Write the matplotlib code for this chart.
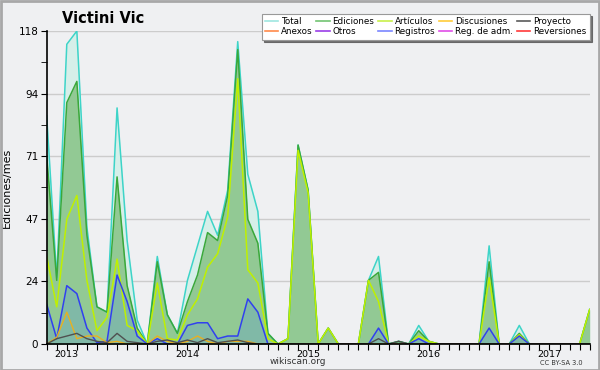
import numpy as np
import matplotlib
matplotlib.use("Agg")
import matplotlib.pyplot as plt
from matplotlib.lines import Line2D
from matplotlib.patches import Rectangle

# monthly values, Nov 2012 .. May 2017 (55 months)
total = [86, 25, 113, 118, 44, 14, 12, 89, 39, 9, 0, 33, 11, 4, 24, 37, 50, 41, 58, 114,
         64, 50, 4, 0, 2, 75, 58, 0, 6, 0, 0, 0, 24, 33, 0, 1, 0, 7, 1, 0,
         0, 0, 0, 0, 37, 0, 0, 7, 0, 0, 0, 0, 0, 0, 13]
ediciones = [71, 24, 91, 99, 41, 14, 12, 63, 22, 6, 0, 31, 11, 4, 16, 26, 42, 39, 56, 111,
             47, 38, 4, 0, 2, 75, 58, 0, 6, 0, 0, 0, 24, 27, 0, 1, 0, 5, 1, 0,
             0, 0, 0, 0, 31, 0, 0, 4, 0, 0, 0, 0, 0, 0, 13]
articulos = [33, 14, 47, 56, 24, 5, 10, 32, 7, 5, 0, 23, 2, 1.5, 11, 17, 29, 34, 48, 100,
             28, 23, 2, 0, 2, 73, 57, 0, 6, 0, 0, 0, 24, 16, 0, 0, 0, 3, 1, 0,
             0, 0, 0, 0, 25, 0, 0, 3.5, 0, 0, 0, 0, 0, 0, 13]
registros = [15, 2, 22, 19, 6, 0.5, 1, 26, 16, 3, 0, 2, 0, 0, 7, 8, 8, 2, 3, 3,
             17, 12, 0, 0, 0, 0, 0, 0, 0, 0, 0, 0, 0, 6, 0, 0, 0, 2, 0, 0,
             0, 0, 0, 0, 6, 0, 0, 3, 0, 0, 0, 0, 0, 0, 0]
discusiones = [0, 2.5, 12, 2, 3, 3, 0.5, 1, 0, 0, 0, 3, 1, 0, 1, 3, 1, 0, 1, 1,
               1, 0, 0, 0, 0, 0, 0, 0, 0, 0, 0, 0, 0, 0, 0, 0, 0, 0, 0, 0,
               0, 0, 0, 0, 0, 0, 0, 0, 0, 0, 0, 0, 0, 0, 0]
proyecto = [0, 2, 3, 4, 2, 1, 0.5, 4, 1, 0.5, 0, 1, 1.5, 0.5, 1.5, 0.5, 2, 0.5, 1, 1.5,
            0.5, 0, 0, 0, 0, 0, 0, 0, 0, 0, 0, 0, 0, 2, 0, 1, 0, 0, 0, 0,
            0, 0, 0, 0, 0, 0, 0, 0, 0, 0, 0, 0, 0, 0, 0]

year_labels = ["2013", "2014", "2015", "2016", "2017"]
year_pos = [2, 14, 26, 38, 50]

legend_names = ["Total", "Anexos", "Ediciones", "Otros", "Artículos", "Registros",
                "Discusiones", "Reg. de adm.", "Proyecto", "Reversiones"]
legend_colors = ["#9ee6e0", "#ff8a4a", "#72c472", "#9a3ee8", "#c8f04a", "#7a86ff",
                 "#ffcc3a", "#e04ee8", "#5a5a5a", "#ff3a3a"]

BG = "#eff0f2"

fig = plt.figure(figsize=(6, 3.7), dpi=100, facecolor=BG)
ax = fig.add_axes([0.0778, 0.0703, 0.905, 0.8459], facecolor=BG)
fig.patches.append(Rectangle((0.001, 0.001), 0.997, 0.996, transform=fig.transFigure,
                             fill=False, edgecolor="#a8a8a8", linewidth=2))

x = np.arange(len(total))

ax.fill_between(x, total, color="#d6efe9", lw=0)
ax.plot(x, total, color="#3dd4c8", lw=1.1)
ax.fill_between(x, ediciones, color="#92c994", lw=0)
ax.plot(x, ediciones, color="#3aa83a", lw=1.1)
ax.plot(x, articulos, color="#bff000", lw=1.1)
ax.fill_between(x, registros, color="#7fb8aa", lw=0, alpha=0.9)
ax.plot(x, registros, color="#3040f0", lw=1.1)
ax.plot(x, discusiones, color="#e8b020", lw=1)
ax.plot(x, proyecto, color="#505050", lw=1)

ax.set_xlim(0, len(total) - 1)
ax.set_ylim(0, 118)

yt = np.linspace(0, 118, 6)
ax.set_yticks(yt)
ax.set_yticklabels([f"{v:.0f}" for v in yt], fontsize=7.5)
ax.set_yticks(np.linspace(0, 118, 11), minor=True)
ax.tick_params(axis="y", which="both", length=4, direction="out", pad=2)
for v in yt[1:]:
    ax.axhline(v, color="#cccccc", lw=1, zorder=0)

xlabels = ["" for _ in x]
for p, lab in zip(year_pos, year_labels):
    xlabels[p] = lab
ax.set_xticks(x)
ax.set_xticklabels(xlabels, fontsize=6.8)
ax.tick_params(axis="x", which="major", length=4, direction="out", pad=0)

for s in ["top", "right"]:
    ax.spines[s].set_visible(False)
ax.spines["left"].set_linewidth(1.2)
ax.spines["bottom"].set_linewidth(1.2)

ax.set_ylabel("Ediciones/mes", fontsize=8)
ax.yaxis.set_label_coords(-0.064, 0.5)
fig.text(0.172, 0.95, "Victini Vic", fontsize=10.5, fontweight="bold", ha="center", va="center")
fig.text(0.497, 0.022, "wikiscan.org", fontsize=6.5, ha="center", va="center", color="#333333")
fig.text(0.935, 0.02, "CC BY-SA 3.0", fontsize=4.8, ha="center", va="center", color="#333333")

handles = [Line2D([], [], color=c, lw=1.2) for c in legend_colors]
leg = fig.legend(handles, legend_names, ncol=5, loc="upper right",
                 bbox_to_anchor=(0.99, 0.975), fontsize=6.3, frameon=True,
                 handlelength=1.5, handletextpad=0.35, columnspacing=0.45,
                 labelspacing=0.2, borderpad=0.35, fancybox=False,
                 shadow={"color": "#555555", "alpha": 0.8})
leg.get_frame().set_edgecolor("#999999")
leg.get_frame().set_linewidth(0.8)

fig.savefig("out.png", dpi=100, facecolor=BG)
